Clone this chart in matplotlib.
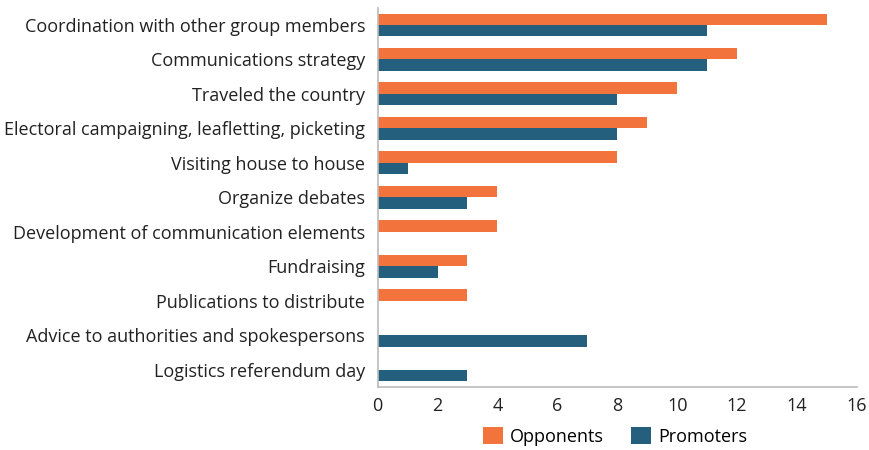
import matplotlib
matplotlib.use("Agg")
import matplotlib.pyplot as plt
import numpy as np

categories = [
    "Coordination with other group members",
    "Communications strategy",
    "Traveled the country",
    "Electoral campaigning, leafletting, picketing",
    "Visiting house to house",
    "Organize debates",
    "Development of communication elements",
    "Fundraising",
    "Publications to distribute",
    "Advice to authorities and spokespersons",
    "Logistics referendum day",
]
opponents = [15, 12, 10, 9, 8, 4, 4, 3, 3, 0, 0]
promoters = [11, 11, 8, 8, 1, 3, 0, 2, 0, 7, 3]

ORANGE = "#F3733C"
BLUE = "#245F7D"

plt.rcParams["font.family"] = ["Open Sans", "DejaVu Sans"]

fig = plt.figure(figsize=(8.7, 4.5), dpi=100)
ax = fig.add_axes([0.434, 0.14, 0.551, 0.843])

y = np.arange(len(categories))
h = 0.33
ax.barh(y - h / 2, opponents, height=h, color=ORANGE, label="Opponents")
ax.barh(y + h / 2, promoters, height=h, color=BLUE, label="Promoters")

ax.set_ylim(len(categories) - 0.5, -0.5)
ax.set_xlim(0, 16)
ax.set_xticks(range(0, 17, 2))
ax.set_yticks(y)
ax.set_yticklabels(categories, fontsize=13, color="#222222")
ax.tick_params(axis="x", labelsize=13, colors="#222222", length=0, pad=7)
ax.tick_params(axis="y", length=0, pad=9)

for s in ["top", "right"]:
    ax.spines[s].set_visible(False)
for s in ["left", "bottom"]:
    ax.spines[s].set_color("#BBBBBB")
    ax.spines[s].set_linewidth(1.2)

fig.legend(loc="center", bbox_to_anchor=(0.707, 0.03), ncol=2, frameon=False,
           fontsize=13, handlelength=1.1, handleheight=1.1, columnspacing=1.5,
           handletextpad=0.4)

fig.savefig("out.png", dpi=100, facecolor="white")
